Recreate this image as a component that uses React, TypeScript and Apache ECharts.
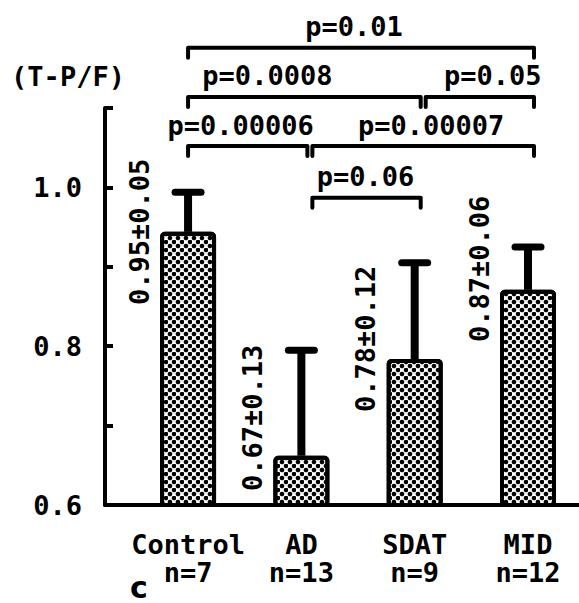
import React, { useEffect, useRef } from "react";
import * as echarts from "echarts";

const categories = ["Control", "AD", "SDAT", "MID"];
const sampleSizes = ["n=7", "n=13", "n=9", "n=12"];
const means = [0.944, 0.662, 0.784, 0.871];
const errors = [0.05, 0.133, 0.121, 0.054];
const meanLabels = ["0.95±0.05", "0.67±0.13", "0.78±0.12", "0.87±0.06"];
const compFrom = [0, 0, 2, 0, 1, 1];
const compTo = [3, 2, 3, 1, 3, 2];
const pValues = ["p=0.01", "p=0.0008", "p=0.05", "p=0.00006", "p=0.00007", "p=0.06"];
const yTicksMin = 0.6;
const yTicksMax = 1.1;
const yTickStep = 0.1;

// layout constants (not data)
const bracketLevels = [1.176, 1.114, 1.114, 1.052, 1.052, 0.987];
const bracketTextShift = [-7, -37, 13, -7, 8, -1];
const meanLabelShift = [0, -38, -20, -21];

const FONT = "DejaVu Sans Mono";
const FS = 27;

export default function App() {
  const ref = useRef<HTMLDivElement>(null);
  useEffect(() => {
    if (!ref.current) return;
    const chart = echarts.init(ref.current, undefined, { renderer: "svg" });
    const font = `bold ${FS}px "${FONT}"`;
    chart.setOption({
      animation: false,
      backgroundColor: "#fff",
      grid: { left: 105, right: 0, top: 108, bottom: 98, containLabel: false },
      xAxis: {
        type: "value",
        min: -0.733,
        max: 3.45,
        splitLine: { show: false },
        axisLine: { show: true, onZero: false, lineStyle: { color: "#000", width: 4 } },
        axisTick: { show: false },
        axisLabel: {
          customValues: [0, 1, 2, 3],
          formatter: (v: number) => categories[Math.round(v)] + "\n" + sampleSizes[Math.round(v)],
          fontFamily: FONT,
          fontSize: FS,
          fontWeight: "bold",
          color: "#000",
          lineHeight: 28,
          margin: 25,
        },
      },
      yAxis: {
        type: "value",
        min: yTicksMin,
        max: yTicksMax,
        interval: yTickStep,
        splitLine: { show: false },
        axisLine: { show: true, onZero: false, lineStyle: { color: "#000", width: 4 } },
        axisTick: { show: true, inside: true, length: 8, lineStyle: { color: "#000", width: 4 } },
        axisLabel: {
          formatter: (v: number) => (Math.round(v * 10) % 2 === 0 ? v.toFixed(1) : ""),
          fontFamily: FONT,
          fontSize: FS,
          fontWeight: "bold",
          color: "#000",
          margin: 23,
        },
      },
      graphic: [
        {
          type: "text",
          x: 68,
          y: 76,
          style: { text: "(T-P/F)", font, fill: "#000", align: "center", verticalAlign: "middle" },
        },
        {
          type: "text",
          x: 139,
          y: 602,
          style: { text: "c", font: 'bold 30px "DejaVu Sans"', fill: "#000", align: "center", verticalAlign: "bottom" },
        },
      ],
      series: [
        {
          type: "bar",
          data: means.map((m, i) => [i, m]),
          barWidth: 56,
          itemStyle: {
            color: "#fff",
            borderColor: "#000",
            borderWidth: 4,
            borderRadius: 3,
            decal: {
              symbol: "circle",
              symbolSize: 1.15,
              color: "#000",
              dashArrayX: [[3.2, 3.2], [0, 3.2, 3.2, 0]],
              dashArrayY: [3.2, 0],
            },
          },
        },
        {
          type: "custom",
          data: means.map((m, i) => [i, m, errors[i]]),
          encode: { x: 0, y: 1 },
          z: 3,
          renderItem: (params: any, api: any) => {
            const x = api.value(0);
            const m = api.value(1);
            const e = api.value(2);
            const base = api.coord([x, m]);
            const top = api.coord([x, m + e]);
            return {
              type: "group",
              children: [
                { type: "line", shape: { x1: base[0], y1: base[1], x2: base[0], y2: top[1] }, style: { stroke: "#000", lineWidth: 8 } },
                { type: "line", shape: { x1: top[0] - 13, y1: top[1], x2: top[0] + 13, y2: top[1] }, style: { stroke: "#000", lineWidth: 7, lineCap: "round" } },
              ],
            };
          },
        },
        {
          type: "custom",
          data: means.map((m, i) => [i, m]),
          encode: { x: 0, y: 1 },
          renderItem: (params: any, api: any) => {
            const i = params.dataIndex;
            const p = api.coord([api.value(0), api.value(1)]);
            return {
              type: "text",
              x: p[0] - 49,
              y: p[1] + meanLabelShift[i],
              rotation: Math.PI / 2,
              style: { text: meanLabels[i], font, fill: "#000", align: "center", verticalAlign: "middle" },
            };
          },
        },
        {
          type: "custom",
          data: compFrom.map((f, k) => [f, compTo[k], bracketLevels[k]]),
          encode: { x: 0, y: 2 },
          renderItem: (params: any, api: any) => {
            const k = params.dataIndex;
            const i = api.value(0);
            const j = api.value(1);
            const lvl = api.value(2);
            const a = api.coord([i, lvl]);
            const b = api.coord([j, lvl]);
            const x1 = a[0] + (i === 0 ? 0 : 11);
            const x2 = b[0] + 6;
            const y = a[1];
            return {
              type: "group",
              children: [
                {
                  type: "polyline",
                  shape: { points: [[x1, y + 10], [x1, y], [x2, y], [x2, y + 10]] },
                  style: { stroke: "#000", lineWidth: 4, fill: "none", lineJoin: "round", lineCap: "round" },
                },
                {
                  type: "text",
                  x: (x1 + x2) / 2 + bracketTextShift[k],
                  y: y - 21,
                  style: { text: pValues[k], font, fill: "#000", align: "center", verticalAlign: "middle" },
                },
              ],
            };
          },
        },
      ],
    });
    return () => chart.dispose();
  }, []);
  return <div ref={ref} style={{ position: "absolute", left: 0, top: 0, width: 579, height: 603 }} />;
}
